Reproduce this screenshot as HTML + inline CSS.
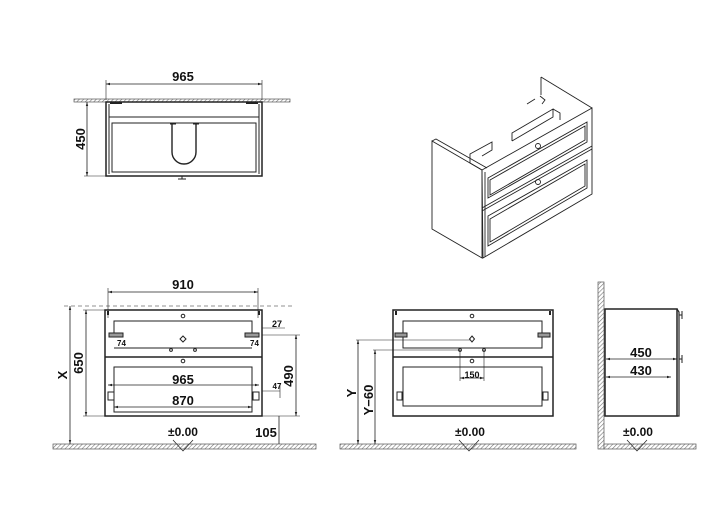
<!DOCTYPE html>
<html><head><meta charset="utf-8"><style>
html,body{margin:0;padding:0;background:#fff;}
svg{display:block;}
text{font-family:"Liberation Sans",Arial,sans-serif;font-weight:bold;fill:#111;}
</style></head><body>
<svg width="716" height="510" viewBox="0 0 716 510" xmlns="http://www.w3.org/2000/svg">
<defs>
<pattern id="h" width="3" height="3" patternUnits="userSpaceOnUse" patternTransform="rotate(45)">
<rect width="3" height="3" fill="#fff"/><line x1="0" y1="0" x2="0" y2="3" stroke="#777" stroke-width="1.2"/></pattern>
<marker id="a" viewBox="0 0 10 10" refX="10" refY="5" markerWidth="5" markerHeight="5" orient="auto-start-reverse"><path d="M0,2 L10,5 L0,8z" fill="#222"/></marker>
</defs>
<g stroke="#222" fill="none" stroke-width="1">
<!-- TOP VIEW -->
<rect x="74" y="99" width="216" height="3" fill="url(#h)" stroke="#555" stroke-width="0.7"/>
<rect x="106" y="102" width="156" height="74" stroke-width="1.5"/>
<line x1="109" y1="104" x2="109" y2="174"/><line x1="259" y1="104" x2="259" y2="174"/>
<line x1="109" y1="117" x2="259" y2="117"/>
<rect x="112" y="123" width="144" height="49"/>
<path d="M172,124 V152 A12,12 0 0 0 196,152 V124" stroke-width="1.4"/>
<line x1="170" y1="124" x2="176" y2="124"/><line x1="193" y1="124" x2="199" y2="124"/>
<line x1="110" y1="103" x2="122" y2="103" stroke-width="2"/><line x1="246" y1="103" x2="258" y2="103" stroke-width="2"/>
<path d="M182,176 V179 M178,179 H186"/>
<line x1="106" y1="84" x2="262" y2="84" marker-start="url(#a)" marker-end="url(#a)" stroke-width="0.8"/>
<line x1="106" y1="80" x2="106" y2="100" stroke-width="0.6"/><line x1="262" y1="80" x2="262" y2="100" stroke-width="0.6"/>
<line x1="87" y1="102" x2="87" y2="176" marker-start="url(#a)" marker-end="url(#a)" stroke-width="0.8"/>
<line x1="84" y1="176" x2="106" y2="176" stroke-width="0.6"/>

<!-- ISOMETRIC -->
<g stroke-width="0.9">
<polygon points="432,141 482,170 482,258 432,229"/>
<polygon points="482,170 592,108 592,194 483,258"/>
<line x1="485" y1="172" x2="485" y2="257"/>
<line x1="482" y1="208" x2="592" y2="146"/>
<line x1="482" y1="211" x2="592" y2="149"/>
<polygon points="488,178 587,122 587,142 488,198"/>
<polygon points="490,180 585,126 585,140 490,195"/>
<polygon points="488,216 587,160 587,188 488,246"/>
<polygon points="490,219 585,164 585,186 490,242"/>
<polyline points="541,77 592,108"/><polyline points="541,77 541,95"/>
<polyline points="432,141 436,139 487,168"/>
<polyline points="482,170 470,163 470,154 492,142 492,150 482,156"/>
<polyline points="512,141 512,133 553,109 553,117 512,141"/>
<polyline points="553,109 560,113 560,120"/>
<circle cx="538" cy="146" r="2.5"/><circle cx="538" cy="182" r="2.5"/>
<path d="M527,104 L535,99 M540,96 L545,100 L542,104"/>
</g>

<!-- FRONT VIEW LEFT -->
<rect x="53" y="444" width="263" height="5" fill="url(#h)" stroke="#555" stroke-width="0.7"/>
<rect x="105" y="310" width="157" height="106" stroke-width="1.5"/>
<line x1="105" y1="357" x2="262" y2="357" stroke-width="1.5"/>
<line x1="108" y1="311" x2="108" y2="315" stroke-width="2"/><line x1="259" y1="311" x2="259" y2="315" stroke-width="2"/>
<polyline points="114,335 114,321 252,321 252,335"/>
<line x1="114" y1="348" x2="252" y2="348"/>
<rect x="114" y="367" width="138" height="45"/>
<circle cx="183" cy="316" r="1.8"/><circle cx="183" cy="361" r="1.8"/>
<path d="M183,336 l3,3 -3,3 -3,-3z"/><circle cx="171" cy="350" r="1.4"/><circle cx="195" cy="350" r="1.4"/>
<rect x="109" y="333" width="14" height="4" fill="#999"/><rect x="245" y="333" width="14" height="4" fill="#999"/>
<rect x="108" y="392" width="6" height="8"/><rect x="253" y="392" width="6" height="8"/>
<line x1="108" y1="292" x2="258" y2="292" marker-start="url(#a)" marker-end="url(#a)" stroke-width="0.8"/>
<line x1="108" y1="288" x2="108" y2="318" stroke-width="0.6"/><line x1="258" y1="288" x2="258" y2="318" stroke-width="0.6"/>
<line x1="64" y1="306" x2="292" y2="306" stroke-dasharray="4,3" stroke-width="0.6"/>
<line x1="70" y1="306" x2="70" y2="444" marker-start="url(#a)" marker-end="url(#a)" stroke-width="0.8"/>
<line x1="86" y1="310" x2="86" y2="416" marker-start="url(#a)" marker-end="url(#a)" stroke-width="0.8"/>
<line x1="83" y1="310" x2="105" y2="310" stroke-width="0.6"/><line x1="83" y1="416" x2="105" y2="416" stroke-width="0.6"/>
<line x1="296" y1="335" x2="296" y2="416" marker-start="url(#a)" marker-end="url(#a)" stroke-width="0.8"/>
<line x1="262" y1="335" x2="300" y2="335" stroke-width="0.6"/><line x1="262" y1="416" x2="300" y2="416" stroke-width="0.6"/>
<line x1="279" y1="416" x2="279" y2="444" stroke-width="0.8"/>
<line x1="262" y1="328" x2="285" y2="328" stroke-width="0.6"/>
<line x1="108" y1="385" x2="259" y2="385" marker-start="url(#a)" marker-end="url(#a)" stroke-width="0.8"/>
<line x1="114" y1="407" x2="252" y2="407" marker-start="url(#a)" marker-end="url(#a)" stroke-width="0.8"/>
<line x1="262" y1="391" x2="280" y2="391" stroke-width="0.6"/><line x1="280" y1="384" x2="280" y2="398" stroke-width="0.6"/>
<path d="M173,440 L183,451 L193,440" stroke-width="0.7"/>

<!-- FRONT VIEW MIDDLE -->
<rect x="340" y="444" width="236" height="5" fill="url(#h)" stroke="#555" stroke-width="0.7"/>
<rect x="393" y="310" width="160" height="106" stroke-width="1.5"/>
<line x1="393" y1="357" x2="553" y2="357" stroke-width="1.5"/>
<line x1="396" y1="311" x2="396" y2="315" stroke-width="2"/><line x1="550" y1="311" x2="550" y2="315" stroke-width="2"/>
<rect x="403" y="321" width="139" height="27"/>
<rect x="403" y="367" width="139" height="39"/>
<circle cx="472" cy="316" r="1.8"/><circle cx="472" cy="361" r="1.8"/>
<path d="M472,336 l2.5,3 -2.5,3 -2.5,-3z"/><circle cx="460" cy="350" r="1.4"/><circle cx="484" cy="350" r="1.4"/>
<rect x="395" y="333" width="12" height="4" fill="#999"/><rect x="538" y="333" width="12" height="4" fill="#999"/>
<rect x="397" y="392" width="5" height="8"/><rect x="543" y="392" width="5" height="8"/>
<line x1="358" y1="340" x2="358" y2="444" marker-start="url(#a)" marker-end="url(#a)" stroke-width="0.8"/>
<line x1="356" y1="340" x2="470" y2="340" stroke-width="0.6"/>
<line x1="375" y1="350" x2="375" y2="444" marker-start="url(#a)" marker-end="url(#a)" stroke-width="0.8"/>
<line x1="373" y1="350" x2="460" y2="350" stroke-width="0.6"/>
<line x1="460" y1="350" x2="460" y2="381" stroke-width="0.6"/><line x1="484" y1="350" x2="484" y2="381" stroke-width="0.6"/>
<line x1="460" y1="378" x2="484" y2="378" marker-start="url(#a)" marker-end="url(#a)" stroke-width="0.8"/>
<path d="M459,440 L469,451 L479,440" stroke-width="0.7"/>

<!-- SIDE VIEW -->
<rect x="598" y="282" width="6" height="167" fill="url(#h)" stroke="#555" stroke-width="0.7"/>
<rect x="604" y="444" width="92" height="5" fill="url(#h)" stroke="#555" stroke-width="0.7"/>
<rect x="605" y="309" width="72" height="107" stroke-width="1.5"/>
<polyline points="677,309 679,312 679,416 677,416" stroke-width="1.2"/>
<path d="M679,315 H682 M682,311 V319 M679,359 H682 M682,355 V363"/>
<line x1="606" y1="359" x2="677" y2="359" marker-start="url(#a)" marker-end="url(#a)" stroke-width="0.8"/>
<line x1="606" y1="377" x2="671" y2="377" marker-start="url(#a)" marker-end="url(#a)" stroke-width="0.8"/>
<path d="M627,440 L637,451 L647,440" stroke-width="0.7"/>
</g>

<text x="183" y="81" font-size="13" text-anchor="middle">965</text>
<text transform="translate(85,139) rotate(-90)" font-size="13" text-anchor="middle">450</text>
<text x="183" y="289" font-size="13" text-anchor="middle">910</text>
<text transform="translate(67,375) rotate(-90)" font-size="13" text-anchor="middle">X</text>
<text transform="translate(83,363) rotate(-90)" font-size="13" text-anchor="middle">650</text>
<text transform="translate(293,376) rotate(-90)" font-size="13" text-anchor="middle">490</text>
<text x="183" y="384" font-size="13" text-anchor="middle">965</text>
<text x="183" y="405" font-size="13" text-anchor="middle">870</text>
<text x="266" y="437" font-size="13" text-anchor="middle">105</text>
<text x="277" y="327" font-size="9" font-weight="normal" text-anchor="middle">27</text>
<text x="277" y="389" font-size="8" font-weight="normal" text-anchor="middle">47</text>
<text x="117" y="346" font-size="8" font-weight="normal">74</text>
<text x="250" y="346" font-size="8" font-weight="normal">74</text>
<text x="183" y="436" font-size="12" text-anchor="middle">±0.00</text>
<text x="470" y="436" font-size="12" text-anchor="middle">±0.00</text>
<text x="638" y="436" font-size="12" text-anchor="middle">±0.00</text>
<text transform="translate(356,393) rotate(-90)" font-size="13" text-anchor="middle">Y</text>
<text transform="translate(373,400) rotate(-90)" font-size="13" text-anchor="middle">Y−60</text>
<text x="472" y="378" font-size="9" text-anchor="middle">150</text>
<text x="641" y="357" font-size="13" text-anchor="middle">450</text>
<text x="641" y="375" font-size="13" text-anchor="middle">430</text>
</svg>
</body></html>
